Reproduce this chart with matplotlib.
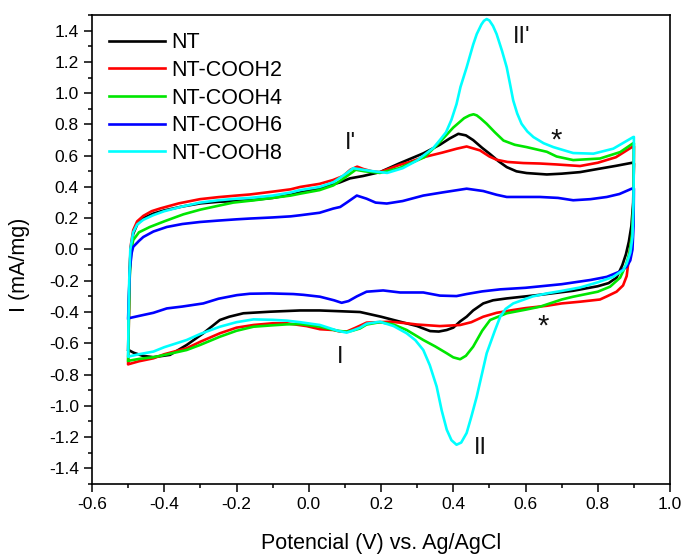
import matplotlib
matplotlib.use("Agg")
import matplotlib.pyplot as plt
from matplotlib.ticker import MultipleLocator

plt.rcParams['font.family'] = ['Liberation Sans', 'DejaVu Sans']

labels = ["NT", "NT-COOH2", "NT-COOH4", "NT-COOH6", "NT-COOH8"]
colors = ["#000000", "#FF0000", "#00E600", "#0000FF", "#00FFFF"]

# NT (black): anodic then cathodic sweep
nt_x = [-0.500, -0.498, -0.496, -0.493, -0.486, -0.475, -0.458, -0.43, -0.40, -0.35, -0.30, -0.25, -0.20, -0.163, -0.10, -0.05, -0.024, 0.03, 0.087, 0.114, 0.15, 0.197, 0.25, 0.317, 0.363, 0.39, 0.414, 0.435, 0.455, 0.48, 0.502, 0.525, 0.548, 0.575, 0.603, 0.659, 0.70, 0.751, 0.80, 0.85, 0.898,
        0.900, 0.898, 0.893, 0.886, 0.878, 0.868, 0.852, 0.83, 0.80, 0.732, 0.64, 0.548, 0.51, 0.483, 0.455, 0.437, 0.419, 0.40, 0.382, 0.36, 0.336, 0.30, 0.253, 0.20, 0.142, 0.087, 0.03, -0.024, -0.107, -0.181, -0.22, -0.246, -0.292, -0.338, -0.384, -0.43, -0.46, -0.485, -0.499]
nt_y = [-0.64, -0.40, -0.15, 0.00, 0.10, 0.16, 0.20, 0.23, 0.25, 0.275, 0.295, 0.305, 0.31, 0.315, 0.33, 0.35, 0.365, 0.39, 0.43, 0.455, 0.47, 0.495, 0.55, 0.615, 0.67, 0.71, 0.74, 0.73, 0.70, 0.65, 0.61, 0.565, 0.527, 0.50, 0.489, 0.48, 0.485, 0.495, 0.515, 0.535, 0.556,
        0.55, 0.30, 0.15, 0.05, -0.03, -0.10, -0.18, -0.215, -0.235, -0.264, -0.29, -0.313, -0.325, -0.345, -0.39, -0.43, -0.46, -0.50, -0.515, -0.525, -0.522, -0.49, -0.462, -0.43, -0.40, -0.395, -0.39, -0.39, -0.398, -0.408, -0.43, -0.451, -0.536, -0.611, -0.674, -0.689, -0.68, -0.66, -0.643]

# NT-COOH2 (red)
c2_x = [-0.500, -0.498, -0.496, -0.493, -0.486, -0.475, -0.458, -0.435, -0.412, -0.36, -0.301, -0.25, -0.20, -0.163, -0.10, -0.05, -0.024, 0.03, 0.068, 0.095, 0.115, 0.134, 0.151, 0.175, 0.197, 0.25, 0.28, 0.317, 0.37, 0.41, 0.437, 0.474, 0.50, 0.52, 0.55, 0.594, 0.64, 0.686, 0.751, 0.80, 0.85, 0.898,
        0.900, 0.899, 0.896, 0.889, 0.880, 0.870, 0.852, 0.825, 0.806, 0.751, 0.70, 0.659, 0.60, 0.566, 0.52, 0.483, 0.45, 0.419, 0.363, 0.30, 0.271, 0.225, 0.16, 0.13, 0.105, 0.087, 0.068, 0.031, -0.006, -0.061, -0.10, -0.153, -0.20, -0.246, -0.30, -0.338, -0.40, -0.43, -0.47, -0.499]
c2_y = [-0.73, -0.45, -0.15, 0.02, 0.123, 0.18, 0.215, 0.245, 0.262, 0.295, 0.322, 0.335, 0.345, 0.352, 0.37, 0.385, 0.40, 0.42, 0.445, 0.47, 0.51, 0.53, 0.515, 0.50, 0.495, 0.54, 0.56, 0.59, 0.62, 0.645, 0.659, 0.634, 0.595, 0.574, 0.56, 0.553, 0.55, 0.544, 0.534, 0.555, 0.59, 0.66,
        0.66, 0.30, 0.10, -0.004, -0.17, -0.23, -0.27, -0.30, -0.32, -0.334, -0.345, -0.36, -0.375, -0.387, -0.405, -0.43, -0.465, -0.483, -0.49, -0.48, -0.472, -0.462, -0.468, -0.50, -0.525, -0.525, -0.515, -0.51, -0.49, -0.472, -0.472, -0.483, -0.50, -0.536, -0.59, -0.632, -0.67, -0.696, -0.715, -0.734]

# NT-COOH4 (green)
c4_x = [-0.500, -0.498, -0.496, -0.492, -0.486, -0.47, -0.44, -0.40, -0.347, -0.30, -0.25, -0.209, -0.15, -0.10, -0.05, -0.024, 0.03, 0.068, 0.10, 0.13, 0.155, 0.197, 0.25, 0.28, 0.32, 0.36, 0.40, 0.43, 0.445, 0.456, 0.465, 0.475, 0.4925, 0.515, 0.539, 0.57, 0.603, 0.659, 0.686, 0.732, 0.806, 0.862, 0.898,
        0.900, 0.899, 0.895, 0.888, 0.878, 0.862, 0.834, 0.80, 0.732, 0.70, 0.64, 0.60, 0.548, 0.502, 0.48, 0.455, 0.435, 0.419, 0.40, 0.382, 0.35, 0.317, 0.271, 0.235, 0.197, 0.16, 0.142, 0.12, 0.105, 0.08, 0.031, -0.024, -0.061, -0.10, -0.153, -0.20, -0.246, -0.30, -0.338, -0.40, -0.43, -0.47, -0.499]
c4_y = [-0.71, -0.45, -0.20, -0.02, 0.06, 0.11, 0.144, 0.18, 0.225, 0.255, 0.28, 0.30, 0.315, 0.33, 0.345, 0.357, 0.38, 0.41, 0.46, 0.51, 0.50, 0.49, 0.52, 0.55, 0.59, 0.68, 0.78, 0.84, 0.858, 0.865, 0.858, 0.84, 0.804, 0.75, 0.697, 0.67, 0.655, 0.625, 0.595, 0.572, 0.582, 0.623, 0.68,
        0.68, 0.30, 0.10, -0.02, -0.10, -0.18, -0.238, -0.27, -0.302, -0.32, -0.366, -0.385, -0.408, -0.451, -0.52, -0.622, -0.68, -0.702, -0.69, -0.664, -0.62, -0.579, -0.515, -0.48, -0.465, -0.48, -0.505, -0.52, -0.526, -0.52, -0.494, -0.477, -0.479, -0.485, -0.494, -0.52, -0.558, -0.61, -0.643, -0.675, -0.689, -0.70, -0.712]

# NT-COOH6 (blue)
c6_x = [-0.500, -0.498, -0.495, -0.490, -0.486, -0.47, -0.458, -0.43, -0.393, -0.35, -0.301, -0.25, -0.20, -0.163, -0.10, -0.05, -0.024, 0.03, 0.068, 0.087, 0.105, 0.133, 0.160, 0.185, 0.216, 0.26, 0.317, 0.37, 0.437, 0.483, 0.52, 0.548, 0.60, 0.640, 0.69, 0.732, 0.78, 0.825, 0.86, 0.894,
        0.900, 0.899, 0.896, 0.890, 0.880, 0.862, 0.825, 0.78, 0.70, 0.60, 0.53, 0.48, 0.437, 0.409, 0.363, 0.317, 0.253, 0.206, 0.16, 0.133, 0.110, 0.091, 0.07, 0.031, -0.015, -0.043, -0.107, -0.163, -0.199, -0.25, -0.292, -0.35, -0.393, -0.43, -0.47, -0.499]
c6_y = [-0.44, -0.30, -0.12, -0.02, 0.017, 0.055, 0.08, 0.115, 0.144, 0.163, 0.176, 0.185, 0.193, 0.198, 0.205, 0.212, 0.219, 0.235, 0.262, 0.272, 0.30, 0.345, 0.325, 0.30, 0.294, 0.31, 0.345, 0.365, 0.389, 0.374, 0.35, 0.336, 0.336, 0.336, 0.33, 0.315, 0.322, 0.336, 0.355, 0.389,
        0.39, 0.15, 0.00, -0.07, -0.11, -0.14, -0.175, -0.195, -0.222, -0.245, -0.255, -0.268, -0.285, -0.298, -0.295, -0.275, -0.275, -0.262, -0.27, -0.30, -0.33, -0.341, -0.325, -0.302, -0.29, -0.285, -0.281, -0.283, -0.292, -0.315, -0.345, -0.365, -0.377, -0.405, -0.425, -0.44]

# NT-COOH8 (cyan)
c8_x = [-0.500, -0.499, -0.497, -0.494, -0.486, -0.475, -0.458, -0.43, -0.40, -0.35, -0.301, -0.25, -0.20, -0.163, -0.10, -0.05, -0.024, 0.03, 0.068, 0.10, 0.123, 0.15, 0.18, 0.217, 0.26, 0.30, 0.345, 0.363, 0.38, 0.395, 0.409, 0.42, 0.437, 0.455, 0.465, 0.478, 0.485, 0.4925, 0.50, 0.51, 0.520, 0.535, 0.548, 0.557, 0.566, 0.577, 0.589, 0.605, 0.622, 0.65, 0.677, 0.732, 0.788, 0.843, 0.898,
        0.900, 0.899, 0.896, 0.890, 0.880, 0.871, 0.843, 0.80, 0.751, 0.70, 0.659, 0.62, 0.566, 0.545, 0.530, 0.515, 0.4925, 0.48, 0.465, 0.45, 0.437, 0.422, 0.409, 0.395, 0.382, 0.368, 0.354, 0.335, 0.317, 0.295, 0.271, 0.235, 0.197, 0.16, 0.142, 0.12, 0.105, 0.08, 0.031, -0.024, -0.061, -0.10, -0.153, -0.20, -0.246, -0.30, -0.338, -0.40, -0.43, -0.47, -0.499]
c8_y = [-0.68, -0.45, -0.20, 0.00, 0.11, 0.16, 0.19, 0.22, 0.245, 0.275, 0.300, 0.315, 0.325, 0.33, 0.345, 0.365, 0.38, 0.40, 0.43, 0.48, 0.52, 0.51, 0.50, 0.49, 0.52, 0.57, 0.65, 0.70, 0.75, 0.83, 0.93, 1.04, 1.165, 1.31, 1.378, 1.44, 1.463, 1.474, 1.465, 1.43, 1.378, 1.27, 1.165, 1.06, 0.953, 0.87, 0.804, 0.755, 0.719, 0.68, 0.655, 0.617, 0.613, 0.645, 0.719,
        0.72, 0.30, 0.08, -0.02, -0.09, -0.13, -0.175, -0.21, -0.243, -0.265, -0.281, -0.30, -0.345, -0.38, -0.43, -0.52, -0.664, -0.79, -0.941, -1.07, -1.174, -1.235, -1.249, -1.22, -1.153, -1.03, -0.877, -0.74, -0.643, -0.58, -0.536, -0.49, -0.462, -0.475, -0.50, -0.52, -0.532, -0.52, -0.483, -0.465, -0.455, -0.45, -0.447, -0.465, -0.494, -0.54, -0.579, -0.625, -0.653, -0.67, -0.685]

series_x = [nt_x, c2_x, c4_x, c6_x, c8_x]
series_y = [nt_y, c2_y, c4_y, c6_y, c8_y]

annotations = [("I'", 0.115, 0.68, 17), ("II'", 0.59, 1.36, 17), ("*", 0.685, 0.70, 21),
               ("I", 0.088, -0.69, 17), ("II", 0.474, -1.27, 17), ("*", 0.65, -0.49, 21)]

fig = plt.figure(figsize=(6.83, 5.54), dpi=100)
ax = fig.add_axes([0.1347, 0.1264, 0.8463, 0.8465])

for xs, ys, lab, col in zip(series_x, series_y, labels, colors):
    ax.plot(xs, ys, color=col, lw=1.9, label=lab, solid_joinstyle='round')

for txt, x, y, fs in annotations:
    ax.text(x, y, txt, fontsize=fs, ha='center', va='center', color='#111111')

ax.set_xlim(-0.6, 1.0)
ax.set_ylim(-1.5, 1.5)
ax.xaxis.set_major_locator(MultipleLocator(0.2))
ax.xaxis.set_minor_locator(MultipleLocator(0.1))
ax.yaxis.set_major_locator(MultipleLocator(0.2))
ax.yaxis.set_minor_locator(MultipleLocator(0.1))
ax.set_yticks([round(-1.4 + 0.2 * i, 1) for i in range(15)])
ax.set_xticklabels([f"{v:.1f}" for v in ax.get_xticks()])
ax.set_yticklabels([f"{v:.1f}" for v in ax.get_yticks()])
ax.tick_params(which='major', direction='out', length=6, width=1.1, labelsize=12.5, top=False, right=False)
ax.tick_params(which='minor', direction='out', length=3, width=1.1, top=False, right=False)
for s in ax.spines.values():
    s.set_linewidth(1.2)

ax.set_xlabel("Potencial (V) vs. Ag/AgCl", fontsize=15.5)
ax.set_ylabel("I (mA/mg)", fontsize=15.5)
ax.xaxis.set_label_coords(0.5, -0.104)
ax.yaxis.set_label_coords(-0.108, 0.467)

ax.legend(loc='upper left', bbox_to_anchor=(0.0, 1.0), frameon=False, fontsize=15.5,
          handlelength=2.6, handletextpad=0.3, labelspacing=0.31, borderaxespad=0.4)

fig.savefig("out.png", dpi=100)
